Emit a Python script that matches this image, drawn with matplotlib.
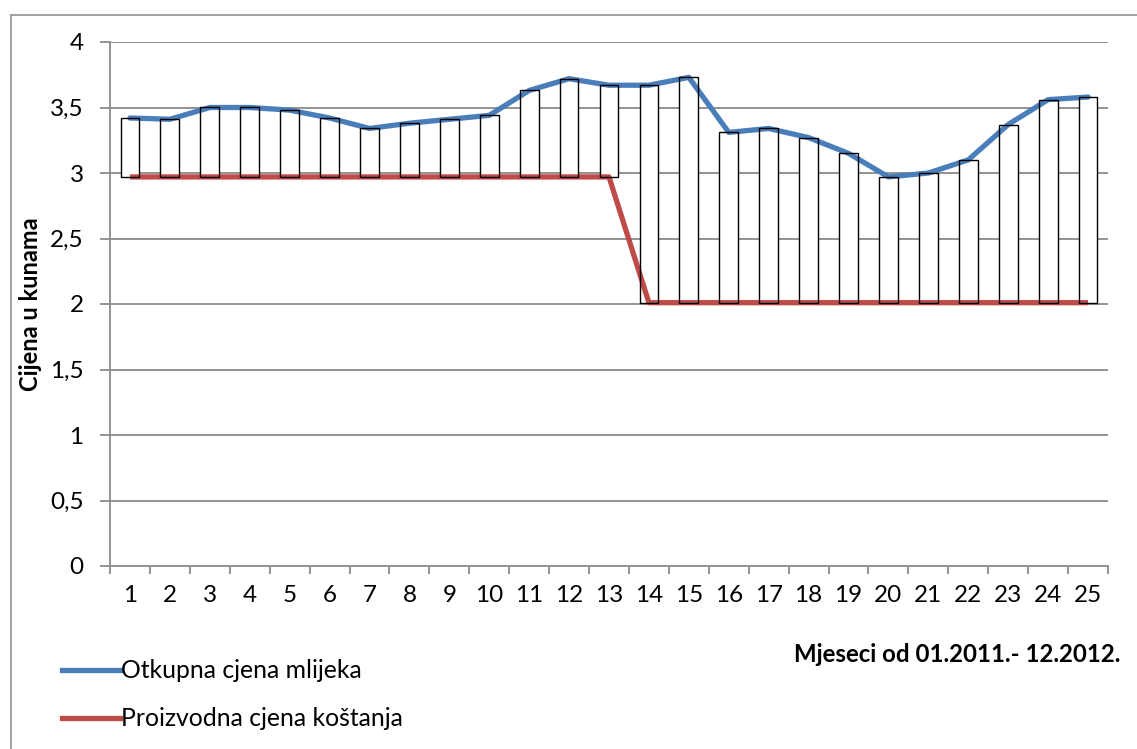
import matplotlib
matplotlib.use("Agg")
import matplotlib.pyplot as plt
from matplotlib.lines import Line2D

# months 1..25 (01.2011 - 12.2012)
months = list(range(1, 26))
otkupna = [3.42, 3.41, 3.50, 3.50, 3.48, 3.42, 3.34, 3.38, 3.41, 3.44,
           3.63, 3.72, 3.67, 3.67, 3.73, 3.31, 3.34, 3.27, 3.15, 2.97,
           3.00, 3.10, 3.37, 3.56, 3.58]
proizvodna = [2.97] * 13 + [2.01] * 12

series_names = ["Otkupna cjena mlijeka", "Proizvodna cjena koštanja"]
y_ticks = [0, 0.5, 1, 1.5, 2, 2.5, 3, 3.5, 4]
y_tick_labels = ["0", "0,5", "1", "1,5", "2", "2,5", "3", "3,5", "4"]

BLUE = "#4a7ebb"
RED = "#be4b48"
GRID = "#8a8a8a"

plt.rcParams["font.family"] = ["Lato", "DejaVu Sans"]

W, H = 1137, 749
fig = plt.figure(figsize=(W / 100, H / 100), dpi=100)
ax = fig.add_axes([110 / W, 1 - 566 / H, (1108 - 110) / W, (566 - 42) / H])

for y in y_ticks[1:]:
    ax.axhline(y, color=GRID, lw=1.3, zorder=0)

lows = [min(a, b) for a, b in zip(otkupna, proizvodna)]
heights = [abs(a - b) for a, b in zip(otkupna, proizvodna)]
ax.bar(months, heights, bottom=lows, width=0.47, color="white", edgecolor="none", zorder=1)
ax.plot(months, otkupna, color=BLUE, lw=3.8, solid_capstyle="round", zorder=2)
ax.plot(months, proizvodna, color=RED, lw=3.8, solid_capstyle="butt", zorder=2)
ax.bar(months, heights, bottom=lows, width=0.47, facecolor="none", edgecolor="black", lw=1.0, zorder=3)

ax.set_xlim(0.5, 25.5)
ax.set_ylim(0, 4)
ax.set_yticks(y_ticks)
ax.set_yticklabels(y_tick_labels)
ax.set_xticks(months)
ax.set_xticklabels([str(m) for m in months])
ax.set_xticks([m - 0.5 for m in months] + [25.5], minor=True)

for s in ["top", "right"]:
    ax.spines[s].set_visible(False)
for s in ["left", "bottom"]:
    ax.spines[s].set_color(GRID)
    ax.spines[s].set_linewidth(1.3)

ax.tick_params(axis="x", which="major", length=0, pad=14, labelsize=17.5)
ax.tick_params(axis="x", which="minor", length=6, width=1.3, color=GRID)
ax.tick_params(axis="y", length=7, width=1.3, color=GRID, pad=12, labelsize=17.5)

ax.set_ylabel("Cijena u kunama", fontsize=17, fontweight="bold")
ax.yaxis.set_label_coords(-(110 - 42) / (1108 - 110), 0.5)

fig.text(1120 / W, 1 - 655 / H, "Mjeseci od 01.2011.- 12.2012.", ha="right", va="center",
         fontsize=17.3, fontweight="bold")

# legend drawn by hand, like the original layout
for name, color, ypix in [(series_names[0], BLUE, 670), (series_names[1], RED, 718)]:
    fig.add_artist(Line2D([62 / W, 120 / W], [1 - ypix / H] * 2, color=color, lw=3.8,
                          transform=fig.transFigure))
    fig.text(121 / W, 1 - ypix / H, name, ha="left", va="center", fontsize=17.8)

# chart area border
fig.add_artist(Line2D([11 / W, 11 / W], [0, 1 - 15 / H], color="#9a9a9a", lw=1.3, transform=fig.transFigure))
fig.add_artist(Line2D([11 / W, 1], [1 - 15 / H] * 2, color="#9a9a9a", lw=1.3, transform=fig.transFigure))

fig.savefig("out.png", dpi=100)
